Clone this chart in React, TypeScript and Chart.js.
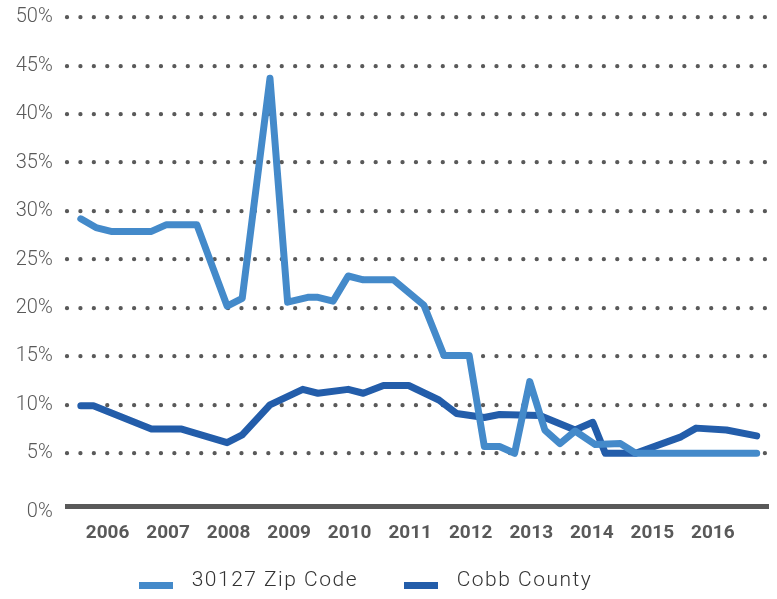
import React, { useEffect, useRef } from "react";
import { Chart, registerables } from "chart.js";

Chart.register(...registerables);

// ---- data ----
const seriesNames = ["30127 Zip Code", "Cobb County"];
const yearLabels = ["2006", "2007", "2008", "2009", "2010", "2011", "2012", "2013", "2014", "2015", "2016"];
// month index (0 = Jan 2006) where each year label sits
const yearTickMonths = [5.3, 17.3, 29.3, 41.3, 53.3, 65.3, 77.3, 89.3, 101.3, 113.3, 125.3];
const yTickValues = [0, 5, 10, 15, 20, 25, 30, 35, 40, 45, 50];

// 30127 Zip Code: month index and rate (%)
const zipMonths = [0, 3, 6, 14, 17, 23, 29, 32, 37.5, 41, 45, 47, 50, 53, 56, 62, 68, 72, 77, 80, 83, 86, 89, 92, 95, 98, 102, 107, 110, 134];
const zipRates = [29.2, 28.3, 27.9, 27.9, 28.6, 28.6, 20.2, 21.0, 43.7, 20.6, 21.1, 21.1, 20.7, 23.3, 22.9, 22.9, 20.3, 15.1, 15.1, 5.7, 5.7, 5.0, 12.4, 7.4, 6.0, 7.3, 5.9, 6.0, 5.0, 5.0];

// Cobb County: month index and rate (%)
const cobbMonths = [0, 2.5, 14, 20, 29, 32, 37.5, 44, 47, 53, 56, 60, 65, 71, 74.5, 80, 83, 91, 98, 101.5, 104, 110, 119, 122, 128, 134];
const cobbRates = [9.9, 9.9, 7.5, 7.5, 6.1, 6.9, 10.0, 11.6, 11.2, 11.6, 11.2, 12.0, 12.0, 10.5, 9.1, 8.7, 9.0, 8.9, 7.4, 8.2, 5.0, 5.0, 6.7, 7.6, 7.4, 6.8];

const LIGHT = "#448ACA";
const DARK = "#235DAA";
const GRAY = "#595959";

export default function App() {
  const canvasRef = useRef<HTMLCanvasElement | null>(null);

  useEffect(() => {
    document.body.style.margin = "0";
    const canvas = canvasRef.current;
    if (!canvas) return;

    // round dots for the dotted grid, square ends for the axis line
    const caps = {
      id: "caps",
      beforeDraw: (c: any) => {
        c.ctx.lineCap = "round";
      },
      afterDatasetsDraw: (c: any) => {
        c.ctx.lineCap = "butt";
      },
    };

    const chart = new Chart(canvas, {
      type: "line",
      data: {
        datasets: [
          {
            label: seriesNames[0],
            data: zipMonths.map((m, i) => ({ x: m, y: zipRates[i] })),
            borderColor: LIGHT,
            backgroundColor: LIGHT,
            borderWidth: 7,
            pointRadius: 0,
            borderJoinStyle: "round",
            borderCapStyle: "round",
            tension: 0,
            fill: false,
          },
          {
            label: seriesNames[1],
            data: cobbMonths.map((m, i) => ({ x: m, y: cobbRates[i] })),
            borderColor: DARK,
            backgroundColor: DARK,
            borderWidth: 7,
            pointRadius: 0,
            borderJoinStyle: "round",
            borderCapStyle: "round",
            tension: 0,
            fill: false,
          },
        ],
      },
      options: {
        animation: false,
        responsive: false,
        events: [],
        layout: { padding: { top: 17.3, right: 9, bottom: 52.4, left: 0 } },
        plugins: {
          legend: { display: false },
          tooltip: { enabled: false },
        },
        scales: {
          x: {
            type: "linear",
            min: -2.68,
            max: 136.24,
            grid: { display: false, drawTicks: false },
            border: { display: true, color: GRAY, width: 5, z: 1 },
            ticks: {
              autoSkip: false,
              maxRotation: 0,
              padding: 15.5,
              color: GRAY,
              font: { family: "Roboto", size: 19, weight: "bold" },
              callback: (_v: any, i: number) => yearLabels[i],
            },
            afterBuildTicks: (s: any) => {
              s.ticks = yearTickMonths.map((v) => ({ value: v }));
            },
            afterFit: (s: any) => {
              s.height = 40;
            },
          },
          y: {
            type: "linear",
            min: -0.5,
            max: 50,
            grid: {
              drawTicks: true,
              tickLength: 14.6,
              tickColor: "rgba(0,0,0,0)",
              lineWidth: 4.3,
              color: (ctx: any) => (ctx.tick && ctx.tick.value === 0 ? "rgba(0,0,0,0)" : GRAY),
            },
            border: { display: false, dash: [0.001, 13.42] },
            ticks: {
              padding: 0,
              color: GRAY,
              font: (ctx: any) => ({
                family: "Roboto",
                size: 20,
                weight: 300,
                lineHeight: ctx.tick && ctx.tick.value === 0 ? 1.0 : 1.2,
              }),
              callback: (v: any) => (v === 0 ? ["", "0%"] : v + "%"),
            },
            afterBuildTicks: (s: any) => {
              s.ticks = yTickValues.map((v) => ({ value: v }));
            },
            afterFit: (s: any) => {
              s.width = 67.3;
            },
          },
        },
      },
      plugins: [caps],
    } as any);

    return () => chart.destroy();
  }, []);

  const legendText: React.CSSProperties = {
    position: "absolute",
    top: 568.5,
    fontFamily: "Roboto",
    fontWeight: 300,
    fontSize: 21,
    lineHeight: "21px",
    letterSpacing: "1.5px",
    color: "#333333",
    whiteSpace: "nowrap",
  };

  return (
    <div style={{ position: "relative", width: 777, height: 599, background: "#fff", overflow: "hidden" }}>
      <canvas ref={canvasRef} width={777} height={599} style={{ display: "block", width: 777, height: 599 }} />
      <div style={{ position: "absolute", left: 139.3, top: 581.7, width: 34, height: 7.7, background: LIGHT }} />
      <span style={{ ...legendText, left: 191.7 }}>{seriesNames[0]}</span>
      <div style={{ position: "absolute", left: 404.3, top: 581.7, width: 34, height: 7.7, background: DARK }} />
      <span style={{ ...legendText, left: 456.7 }}>{seriesNames[1]}</span>
    </div>
  );
}
